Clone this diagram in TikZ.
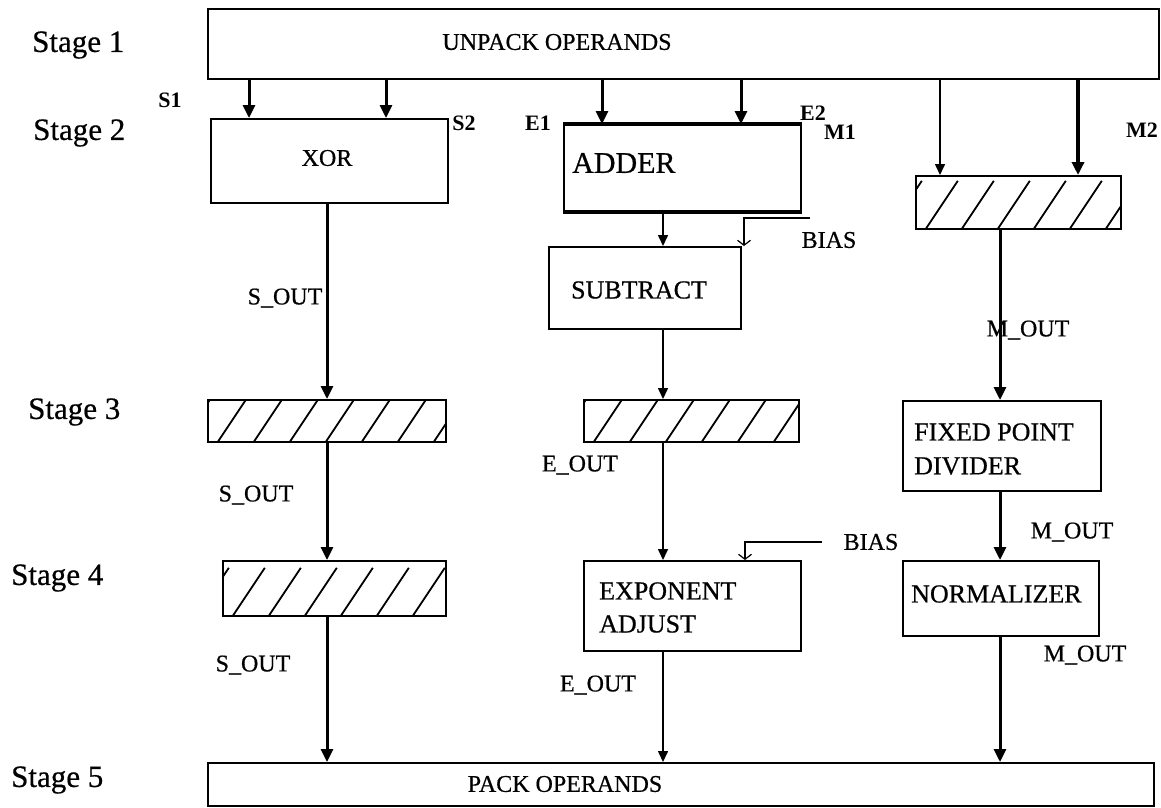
\documentclass[tikz,border=0pt]{standalone}
\usepackage{fontspec}
\setmainfont{Liberation Serif}
\newfontfamily\rf{Liberation Serif}[FakeBold=0.6]
\usetikzlibrary{arrows.meta}
\begin{document}
\begin{tikzpicture}[x=1pt,y=-1pt,
  box/.style={draw, line width=1.6pt, inner sep=0pt, anchor=north west},
  hatchbox/.style={box, path picture={\foreach \k in {-3,...,9}{\draw[line width=1.8pt] ([xshift=\k*36pt+10pt]path picture bounding box.south west) -- ++(32pt,48pt);}}},
  txt/.style={font=\rf\fontsize{24}{28}\selectfont, inner sep=0pt},
  big/.style={font=\rf\fontsize{26}{30}\selectfont, inner sep=0pt},
  sig/.style={font=\bfseries\fontsize{22}{26}\selectfont, inner sep=0pt},
  stg/.style={font=\rf\fontsize{31}{35}\selectfont, inner sep=0pt},
  thk/.style={line width=3pt, -{Triangle[length=13pt,width=12pt]}},
  thn/.style={line width=1.5pt, -{Triangle[length=11pt,width=10pt]}},
  opn/.style={line width=1.2pt, -{Straight Barb[length=5pt,width=13pt]}}]
\useasboundingbox (0,0) rectangle (1161,807);
% boxes
\node[box, minimum width=951, minimum height=70] (unpack) at (207,8) {};
\node[box, minimum width=237, minimum height=84] (xor) at (210,118) {};
\node[box, line width=2pt, minimum width=237, minimum height=86] (adder) at (563,124) {};
\node[box, minimum width=192, minimum height=82] (sub) at (548,246) {};
\node[hatchbox, minimum width=205, minimum height=53] (hm2) at (915,175) {};
\node[hatchbox, minimum width=238, minimum height=42] (hs3) at (207,399) {};
\node[hatchbox, minimum width=215, minimum height=42] (he3) at (583,399) {};
\node[box, minimum width=198, minimum height=90] (fpd) at (902,400) {};
\node[hatchbox, minimum width=223, minimum height=55] (hs4) at (222,560) {};
\node[box, minimum width=217, minimum height=90] (exp) at (583,560) {};
\node[box, minimum width=196, minimum height=75] (norm) at (902,560) {};
\node[box, minimum width=946, minimum height=43] (pack) at (207,762) {};
\draw[line width=4pt] (adder.north west) -- (adder.north east);
\draw[line width=4pt] (adder.south west) -- (adder.south east);
% box texts
\node[txt] (tunpack) at (557,42) {UNPACK OPERANDS};
\node[txt] (txor) at (327,158) {XOR};
\node[txt, font=\rf\fontsize{30}{34}\selectfont, anchor=west] (tadder) at (572,163) {ADDER};
\node[big] (tsub) at (639,290) {SUBTRACT};
\node[big, anchor=west] (tfpd1) at (914,432) {FIXED POINT};
\node[big, anchor=west] (tfpd2) at (914,466) {DIVIDER};
\node[big, anchor=west] (texp1) at (599,591) {EXPONENT};
\node[big, anchor=west] (texp2) at (599,624) {ADJUST};
\node[big, anchor=west] (tnorm) at (911,594) {NORMALIZER};
\node[txt] (tpack) at (565,784) {PACK OPERANDS};
% stage labels
\node[stg, anchor=west] (st1) at (32,45) {Stage 1};
\node[stg, anchor=west] (st2) at (33,133) {Stage 2};
\node[stg, anchor=west] (st3) at (28,412) {Stage 3};
\node[stg, anchor=west] (st4) at (11,578) {Stage 4};
\node[stg, anchor=west] (st5) at (11,780) {Stage 5};
% signal labels
\node[sig] (ls1) at (170,100) {S1};
\node[sig] (ls2) at (464,123) {S2};
\node[sig] (le1) at (538,123) {E1};
\node[sig, anchor=west] (le2) at (800,113) {E2};
\node[sig] (lm1) at (840,132) {M1};
\node[sig, anchor=east] (lm2) at (1158,130) {M2};
\node[txt] (lso1) at (285,298) {S\_OUT};
\node[txt] (lmo1) at (1028,330) {M\_OUT};
\node[txt] (lbias1) at (829,240) {BIAS};
\node[txt] (lso2) at (256,495) {S\_OUT};
\node[txt] (leo1) at (580,465) {E\_OUT};
\node[txt] (lbias2) at (871,542) {BIAS};
\node[txt] (lmo2) at (1072,532) {M\_OUT};
\node[txt] (lso3) at (253,665) {S\_OUT};
\node[txt] (leo2) at (598,685) {E\_OUT};
\node[txt] (lmo3) at (1085,655) {M\_OUT};
% connectors stage 1 -> 2
\draw[thk] (249,0 |- unpack.south) -- (249,0 |- xor.north);
\draw[thk] (386,0 |- unpack.south) -- (386,0 |- xor.north);
\draw[thk] (602,0 |- unpack.south) -- (602,0 |- adder.north);
\draw[thk] (741,0 |- unpack.south) -- (741,0 |- adder.north);
\draw[thn] (940,0 |- unpack.south) -- (940,0 |- hm2.north);
\draw[thk, line width=4pt] (1078,0 |- unpack.south) -- (1078,0 |- hm2.north);
% sign path
\draw[thk] (327,0 |- xor.south) -- (327,0 |- hs3.north);
\draw[thk] (327,0 |- hs3.south) -- (327,0 |- hs4.north);
\draw[thk] (327,0 |- hs4.south) -- (327,0 |- pack.north);
% exponent path
\coordinate (b1) at (810,218);
\coordinate (b2) at (822,542);
\draw[thn] (663,0 |- adder.south) -- (663,0 |- sub.north);
\draw[opn] (b1) -- (744,218) -- (744,0 |- sub.north);
\draw[thn] (663,0 |- sub.south) -- (663,0 |- he3.north);
\draw[thn] (663,0 |- he3.south) -- (663,0 |- exp.north);
\draw[opn] (b2) -- (745,542) -- (745,0 |- exp.north);
\draw[thn] (663,0 |- exp.south) -- (663,0 |- pack.north);
% mantissa path
\draw[thk] (1000,0 |- hm2.south) -- (1000,0 |- fpd.north);
\draw[thk] (1000,0 |- fpd.south) -- (1000,0 |- norm.north);
\draw[thk] (1000,0 |- norm.south) -- (1000,0 |- pack.north);
\end{tikzpicture}
\end{document}
